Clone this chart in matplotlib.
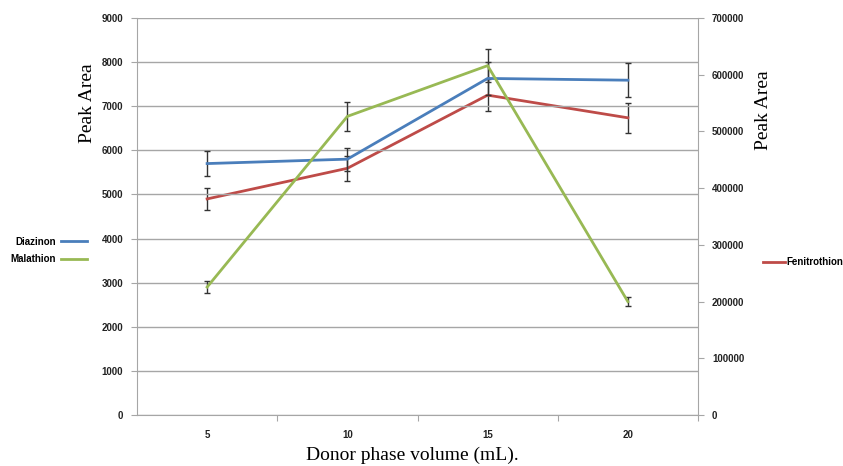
import matplotlib.pyplot as plt
from matplotlib.lines import Line2D
import numpy as np

volumes = ['5', '10', '15', '20']

# left axis
diazinon = [5700, 5800, 7630, 7590]
diazinon_err = [280, 260, 380, 390]
malathion = [2900, 6770, 7920, 2570]
malathion_err = [130, 330, 380, 110]

# right axis
fenitrothion = [381000, 435000, 564000, 524000]
fenitrothion_err = [19000, 22000, 28000, 26000]

blue = '#4a7ebb'
red = '#be4b48'
green = '#98b954'
grey = '#a6a6a6'

fig = plt.figure(figsize=(8.43, 4.66), dpi=100)
ax = fig.add_axes([137/843, 1 - 415/466, (698 - 137)/843, (415 - 18)/466])
ax2 = ax.twinx()

x = np.arange(len(volumes)) + 0.5
ekw = dict(ecolor='#333333', elinewidth=1, capsize=2.5, capthick=1)

ax.errorbar(x, diazinon, yerr=diazinon_err, color=blue, lw=2, **ekw)
ax.errorbar(x, malathion, yerr=malathion_err, color=green, lw=2, **ekw)
ax2.errorbar(x, fenitrothion, yerr=fenitrothion_err, color=red, lw=2, **ekw)
ax2.set_zorder(ax.get_zorder() - 1)
ax.patch.set_visible(False)

ax.set_xlim(0, 4)
ax.set_ylim(0, 9000)
ax.set_yticks(np.arange(0, 9001, 1000))
ax2.set_ylim(0, 700000)
ax2.set_yticks(np.arange(0, 700001, 100000))

ax.set_xticks([1, 2, 3, 4])
ax.set_xticklabels([])
ax.set_xticks(x, minor=True)
ax.set_xticklabels(volumes, minor=True)
ax.tick_params(axis='x', which='major', length=4, color=grey, direction='out')
ax.tick_params(axis='x', which='minor', length=0, pad=11)

ax.yaxis.grid(True, color=grey, lw=1)
ax.set_axisbelow(True)

for a in (ax, ax2):
    for s in a.spines.values():
        s.set_color(grey)
    a.spines['top'].set_visible(False)
ax.spines['right'].set_visible(False)
ax2.spines['left'].set_visible(False)
ax2.spines['bottom'].set_visible(False)

ax.tick_params(axis='y', length=4, color=grey, pad=6)
ax2.tick_params(axis='y', length=4, color=grey, pad=6)
for lab in ax.get_yticklabels() + ax2.get_yticklabels() + ax.get_xticklabels(minor=True):
    lab.set_family('Liberation Sans')
    lab.set_fontsize(7)
    lab.set_fontweight('bold')
    lab.set_color('#222222')

ax.set_ylabel('Peak Area', family='Liberation Serif', fontsize=14)
ax.yaxis.set_label_coords(-0.073, 0.786)
ax2.set_ylabel('Peak Area', family='Liberation Serif', fontsize=14)
ax2.yaxis.set_label_coords(1.102, 0.768)
ax.set_xlabel('Donor phase volume (mL).', family='Liberation Serif', fontsize=14)
ax.xaxis.set_label_coords(0.49, -0.08)

leg_font = dict(family='Liberation Sans', weight='bold', size=7)
h_left = [Line2D([], [], color=blue, lw=2), Line2D([], [], color=green, lw=2)]
fig.legend(h_left, ['Diazinon', 'Malathion'], loc='center left',
           bbox_to_anchor=(10/843, 1 - 250.5/466), frameon=False, prop=leg_font,
           handlelength=2.6, handletextpad=0.6, markerfirst=False,
           labelspacing=0.8, borderpad=0, borderaxespad=0)
h_right = [Line2D([], [], color=red, lw=2)]
fig.legend(h_right, ['Fenitrothion'], loc='center left',
           bbox_to_anchor=(763/843, 1 - 262/466), frameon=False, prop=leg_font,
           handlelength=2.3, handletextpad=0.1, borderpad=0, borderaxespad=0)

fig.savefig('out.png', dpi=100)
